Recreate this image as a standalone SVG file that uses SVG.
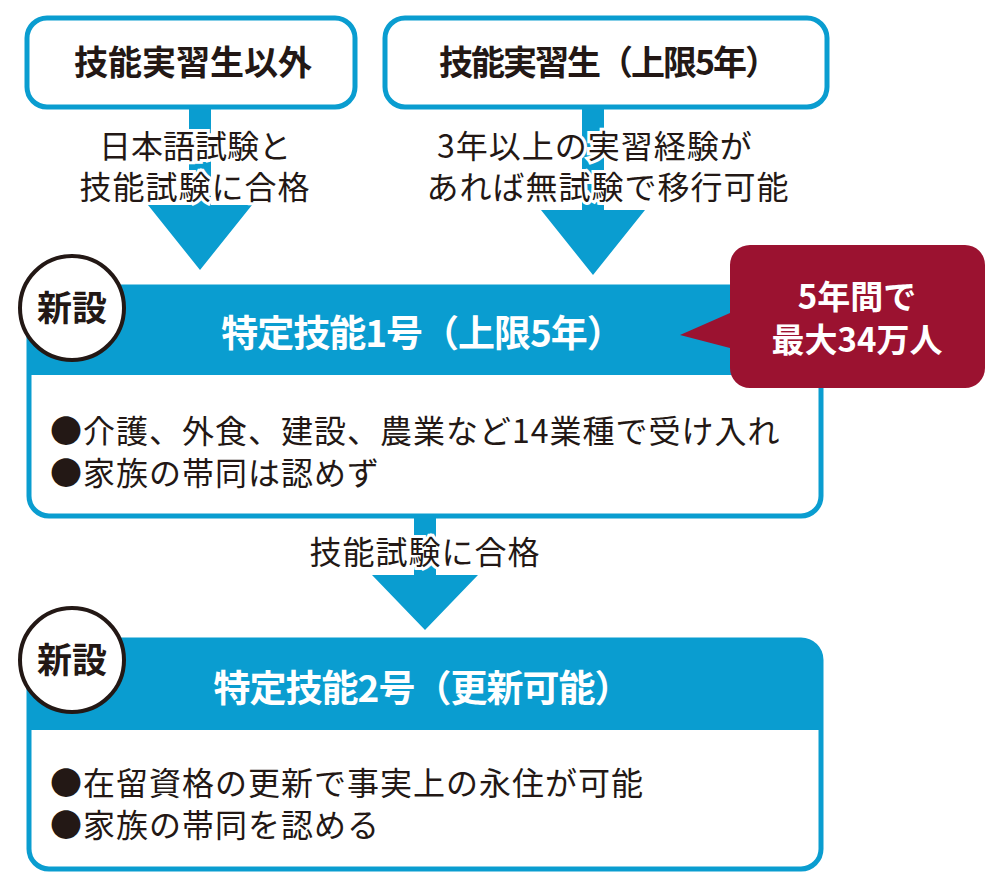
<svg xmlns="http://www.w3.org/2000/svg" width="1000" height="883" viewBox="0 0 1000 883">
<style>
.t{font-family:"Noto Sans CJK JP","Noto Sans",sans-serif;fill:#231815}
.b{font-weight:bold}
.w{fill:#fff;font-weight:bold;font-family:"Noto Sans CJK JP",sans-serif}
.box{fill:#fff;stroke:#0a9dd0;stroke-width:5}
.blue{fill:#0a9dd0}
.circ{fill:#fff;stroke:#231815;stroke-width:4}
</style>
<rect width="1000" height="883" fill="#fff"/>
<g id="connectors">
<path class="blue" d="M189 105h22v100h41l-52 65l-52-65h41z"/>
<path class="blue" d="M582 105h22v105h41l-52 65l-52-65h41z"/>
<path class="blue" d="M414 515h22v60h42l-53 55l-53-55h42z"/>
</g>
<g id="n1"><rect class="box" x="27" y="18" width="328" height="89" rx="20"/>
<text class="t b" x="193" y="75" font-size="34" text-anchor="middle">技能実習生以外</text></g>
<g id="n2"><rect class="box" x="385" y="18" width="442" height="89" rx="20"/>
<text class="t b" x="608" y="75" font-size="34" text-anchor="middle" letter-spacing="-2">技能実習生（上限5年）</text></g>
<g id="l1" font-size="32" text-anchor="middle" stroke="#fff" stroke-width="6" paint-order="stroke">
<text class="t" x="195" y="158">日本語試験と</text><text class="t" x="195" y="199" letter-spacing="1">技能試験に合格</text>
<text class="t" x="595" y="158" letter-spacing="1">3年以上の実習経験が</text><text class="t" x="608" y="199" letter-spacing="1">あれば無試験で移行可能</text>
<text class="t" x="425" y="564" letter-spacing="1">技能試験に合格</text></g>
<g id="n3"><rect class="box" x="29" y="287" width="792" height="229" rx="20"/>
<path class="blue" d="M29 307a20 20 0 0 1 20-20h752a20 20 0 0 1 20 20v68h-792z"/>
<text class="w" x="422" y="347" font-size="37" text-anchor="middle" letter-spacing="-1">特定技能1号（上限5年）</text>
<text class="t" x="50" y="443" font-size="32" letter-spacing="1">●介護、外食、建設、農業など14業種で受け入れ</text>
<text class="t" x="50" y="485" font-size="32" letter-spacing="1">●家族の帯同は認めず</text></g>
<g id="c1"><circle class="circ" cx="72" cy="308" r="52"/><text class="t b" x="72" y="321" font-size="35" text-anchor="middle">新設</text></g>
<g id="n4"><path d="M750 245h215a20 20 0 0 1 20 20v103a20 20 0 0 1-20 20h-215a20 20 0 0 1-20-20v-20l-50-13l50-22v-48a20 20 0 0 1 20-20z" fill="#9b1230"/>
<text class="w" x="857" y="309" font-size="33" text-anchor="middle">5年間で</text>
<text class="w" x="857" y="352" font-size="33" text-anchor="middle">最大34万人</text></g>
<g id="n5"><rect class="box" x="29" y="640" width="792" height="229" rx="20"/>
<path class="blue" d="M29 660a20 20 0 0 1 20-20h752a20 20 0 0 1 20 20v70h-792z"/>
<text class="w" x="422" y="702" font-size="37" text-anchor="middle" letter-spacing="-1">特定技能2号（更新可能）</text>
<text class="t" x="50" y="795" font-size="32" letter-spacing="1">●在留資格の更新で事実上の永住が可能</text>
<text class="t" x="50" y="837" font-size="32" letter-spacing="1">●家族の帯同を認める</text></g>
<g id="c2"><circle class="circ" cx="72" cy="660" r="52"/><text class="t b" x="72" y="673" font-size="35" text-anchor="middle">新設</text></g>
</svg>
